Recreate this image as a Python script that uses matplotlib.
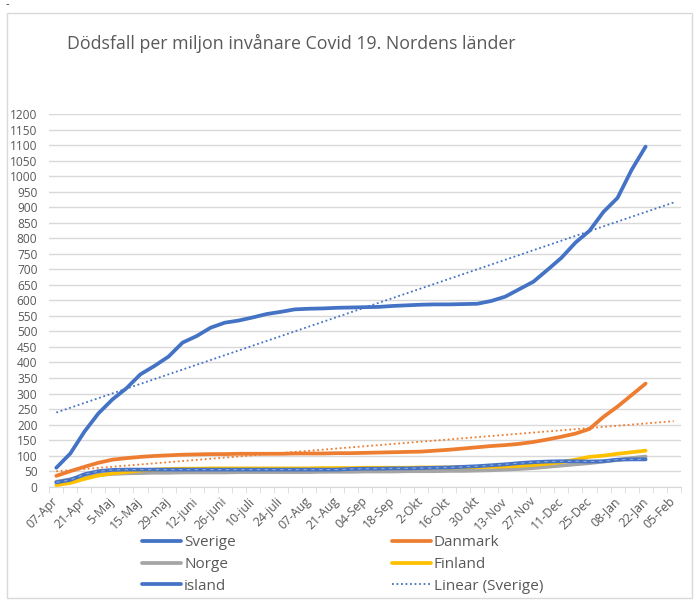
import numpy as np
import matplotlib
matplotlib.use("Agg")
import matplotlib.pyplot as plt
from matplotlib.patches import Rectangle

plt.rcParams['font.family'] = ['Open Sans', 'DejaVu Sans']

# data (deaths per million, weekly points)
labels = ['07-Apr', '21-Apr', '5-Maj', '15-Maj', '29-maj', '12-juni', '26-juni', '10-juli',
          '24-juli', '07-Aug', '21-Aug', '04-Sep', '18-Sep', '2-Okt', '16-Okt', '30 okt',
          '13-Nov', '27-Nov', '11-Dec', '25-Dec', '08-Jan', '22-Jan', '05-Feb']
n_cat = 45

sverige = [61, 107, 177, 236, 281, 317, 362, 389, 419, 464, 485, 512, 528, 535, 545,
           556, 563, 571, 573, 574, 576, 577, 578, 579, 582, 584, 586, 587, 587, 588,
           589, 598, 612, 636, 660, 698, 737, 786, 824, 885, 930, 1020, 1095]
danmark = [35, 50, 64, 77, 87, 92, 96, 99, 101, 103, 104, 105, 105, 106, 106,
           106, 106, 107, 107, 107, 108, 108, 109, 110, 111, 112, 113, 116, 119, 123,
           127, 131, 134, 138, 144, 152, 161, 171, 186, 225, 258, 295, 332]
norge = [16, 24, 34, 38, 41, 43, 44, 45, 45, 46, 46, 46, 46, 47, 47,
         47, 47, 47, 47, 48, 48, 48, 49, 49, 49, 50, 50, 50, 51, 51,
         52, 53, 55, 57, 60, 64, 68, 72, 76, 81, 86, 92, 97]
finland = [5, 12, 25, 36, 43, 47, 52, 55, 57, 58, 58, 59, 59, 59, 59,
           59, 59, 59, 59, 60, 60, 60, 61, 61, 61, 61, 62, 62, 62, 63,
           63, 64, 65, 67, 70, 74, 79, 87, 96, 100, 106, 111, 116]
island = [14, 22, 40, 50, 54, 55, 55, 55, 55, 55, 55, 55, 55, 55, 55,
          55, 55, 55, 55, 55, 55, 57, 58, 58, 59, 59, 60, 61, 62, 64,
          66, 69, 72, 76, 79, 81, 82, 82, 81, 82, 87, 88, 88]

x = np.arange(len(sverige))
x_trend = np.arange(n_cat)

fig = plt.figure(figsize=(7, 6.06), dpi=100)
ax = fig.add_axes([49.3/700, 1-486.7/606, (680.7-49.3)/700, (486.7-114)/606])

blue = '#4472C4'
orange = '#ED7D31'
gray = '#A5A5A5'
yellow = '#FFC000'

lw = 2.7
l1, = ax.plot(x, sverige, color=blue, lw=lw, solid_capstyle='round', label='Sverige', zorder=5)
l2, = ax.plot(x, danmark, color=orange, lw=lw, solid_capstyle='round', label='Danmark', zorder=4)
l3, = ax.plot(x, norge, color=gray, lw=lw, solid_capstyle='round', label='Norge', zorder=3)
l4, = ax.plot(x, finland, color=yellow, lw=lw, solid_capstyle='round', label='Finland', zorder=3)
l5, = ax.plot(x, island, color=blue, lw=lw, solid_capstyle='round', label='island', zorder=4)
ax.plot(x, island, color='#8FAADC', lw=0.8, dashes=(3, 4), zorder=4.5)

# linear trendlines
p_sv = np.polyfit(x, sverige, 1)
p_dk = np.polyfit(x, danmark, 1)
l6, = ax.plot(x_trend, np.polyval(p_sv, x_trend), color=blue, lw=1.3, ls=(0, (1, 1.5)),
              label='Linear (Sverige)', zorder=6)
ax.plot(x_trend, np.polyval(p_dk, x_trend), color=orange, lw=1.3, ls=(0, (1, 1.5)), zorder=6)

ax.set_xlim(-0.5, n_cat - 0.5)
ax.set_ylim(0, 1200)
ax.set_yticks(np.arange(0, 1201, 50))
ax.grid(axis='y', color='#d9d9d9', lw=1)
ax.set_axisbelow(True)
ax.tick_params(axis='y', length=0, labelsize=8.6, labelcolor='#595959', pad=8.5)

ax.set_xticks(np.arange(0, n_cat, 2))
ax.set_xticklabels(labels, rotation=45, ha='right', va='center', rotation_mode='anchor',
                   fontsize=8.8, color='#595959')
ax.set_xticks(np.arange(n_cat + 1) - 0.5, minor=True)
ax.tick_params(axis='x', which='major', length=0, pad=9)
ax.tick_params(axis='x', which='minor', length=4, color='#d9d9d9', direction='out')

for s in ['top', 'right', 'left']:
    ax.spines[s].set_visible(False)
ax.spines['bottom'].set_color('#d9d9d9')

fig.text(67/700, 1-43/606, 'Dödsfall per miljon invånare Covid 19. Nordens länder',
         fontsize=12.8, color='#595959', va='center', ha='left')
fig.text(6/700, 1-5/606, '-', fontsize=8, color='#333333', va='center')

fig.patches.append(Rectangle((7/700, 1-598/606), 685/700, 585/606, transform=fig.transFigure,
                             fill=False, edgecolor='#d9d9d9', lw=1))

leg = fig.legend([l1, l3, l5, l2, l4, l6],
                 ['Sverige', 'Norge', 'island', 'Danmark', 'Finland', 'Linear (Sverige)'],
                 ncol=2, loc='upper left', bbox_to_anchor=(142/700, 1-535/606),
                 frameon=False, fontsize=11, handlelength=2.55, handletextpad=0.2,
                 columnspacing=10.2, labelspacing=0.45, labelcolor='#595959',
                 borderpad=0, borderaxespad=0)

fig.savefig('out.png', dpi=100)
